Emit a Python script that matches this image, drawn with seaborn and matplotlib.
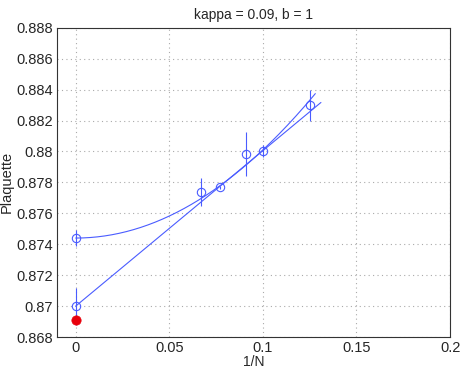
import numpy as np
import pandas as pd
import matplotlib
matplotlib.use("Agg")
import matplotlib.pyplot as plt
import seaborn as sns

# data
inv_N = [1/15, 1/13, 1/11, 1/10, 1/8]
plaq = [0.87739, 0.87768, 0.87983, 0.88003, 0.88298]
plaq_err = [0.0009, 0.0001, 0.0014, 0.0004, 0.0010]

extrap_x = [0.0, 0.0]
extrap_y = [0.8744, 0.8700]
extrap_err = [0.0005, 0.0012]

ref_x = [0.0]
ref_y = [0.8691]

# fit coefficients
quad_a, quad_c, quad_xmax = 0.8744, 0.57, 0.128
lin_a, lin_b, lin_xmax = 0.8700, 0.1005, 0.131

xticks = [0, 0.05, 0.1, 0.15, 0.2]
yticks = [0.868, 0.870, 0.872, 0.874, 0.876, 0.878, 0.880, 0.882, 0.884, 0.886, 0.888]

sns.set_style("white")
plt.rcParams['font.family'] = ['Liberation Sans', 'DejaVu Sans']

blue = '#4a5cff'
fig = plt.figure(figsize=(4.63, 3.72), dpi=100)
ax = fig.add_axes([0.1231, 0.094, 0.849, 0.8315])

xq = np.linspace(0, quad_xmax, 200)
xl = np.linspace(0, lin_xmax, 50)
curves = pd.DataFrame({
    'x': np.concatenate([xq, xl]),
    'y': np.concatenate([quad_a + quad_c * xq**2, lin_a + lin_b * xl]),
    'fit': ['quad'] * len(xq) + ['lin'] * len(xl),
})
sns.lineplot(data=curves, x='x', y='y', units='fit', estimator=None,
             color=blue, lw=0.8, ax=ax, sort=False)

ax.errorbar(inv_N, plaq, yerr=plaq_err, fmt='o', mfc='none', mec=blue,
            ecolor=blue, ms=6, mew=0.8, elinewidth=0.8, capsize=0)
ax.errorbar(extrap_x, extrap_y, yerr=extrap_err, fmt='o', mfc='none', mec=blue,
            ecolor=blue, ms=6, mew=0.8, elinewidth=0.8, capsize=0)
sns.scatterplot(x=ref_x, y=ref_y, color='#e8000b', s=45, edgecolor='#e8000b',
                linewidth=0.5, ax=ax, zorder=5)

ax.set_xlim(-0.01, 0.2)
ax.set_ylim(0.868, 0.888)
ax.set_xticks(xticks)
ax.set_yticks(yticks)
ax.set_xticklabels(['%g' % v for v in xticks])
ax.set_yticklabels(['%g' % round(v, 3) for v in yticks])
ax.tick_params(direction='in', length=4, labelsize=10.5, color='#333333', pad=3)
ax.grid(True, linestyle=(0, (1, 3)), color='#aaaaaa', lw=0.8)
for s in ax.spines.values():
    s.set_color('#333333')
    s.set_linewidth(0.8)
ax.set_xlabel('1/N', fontsize=10, labelpad=0)
ax.set_ylabel('Plaquette', fontsize=10.5, labelpad=2)
ax.set_title('kappa = 0.09, b = 1', fontsize=10, pad=6)

fig.savefig('out.png', dpi=100)
